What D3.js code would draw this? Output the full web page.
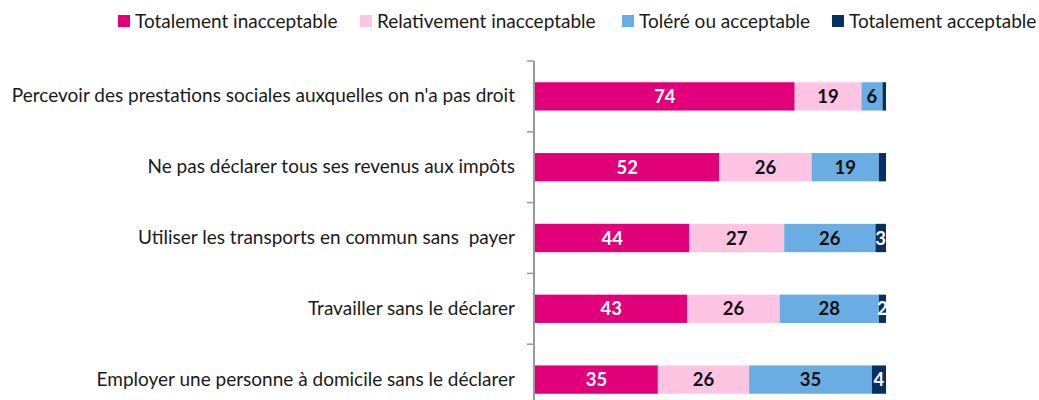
<!DOCTYPE html>
<html><head><meta charset="utf-8">
<script src="https://cdn.jsdelivr.net/npm/d3@7"></script>
<style>body{margin:0;background:#fff}svg{display:block}text{font-family:Lato,"Open Sans",sans-serif;white-space:pre}</style>
</head><body>
<svg id="c" width="1039" height="400"></svg>
<script>
const categories = [
  "Percevoir des prestations sociales auxquelles on n'a pas droit",
  "Ne pas déclarer tous ses revenus aux impôts",
  "Utiliser les transports en commun sans  payer",
  "Travailler sans le déclarer",
  "Employer une personne à domicile sans le déclarer"
];
const seriesNames = ["Totalement inacceptable","Relativement inacceptable","Toléré ou acceptable","Totalement acceptable"];
const totInacc = [74,52,44,43,35];
const relInacc = [19,26,27,26,26];
const tolere   = [6,19,26,28,35];
const totAcc   = [1,2,3,2,4];
const totAccLabelShown = [false,false,true,true,true];
const colors = ["#E2007A","#FFC4E2","#6AADE2","#062F62"];
const labelColors = ["#fff","#111","#111","#fff"];

const series = [totInacc, relInacc, tolere, totAcc];
const svg = d3.select("#c");
const x = d3.scaleLinear().domain([0,100]).range([535,886]);
const y = d3.scaleBand().domain(categories).range([61,415]).paddingInner(0.6).paddingOuter(0.3);

// 100% stacked data
const rows = categories.map((c,i)=>{
  const total = d3.sum(series, s=>s[i]);
  let acc=0;
  return series.map((s,k)=>{
    const p = s[i]/total*100;
    const d={cat:c,k,v:s[i],x0:acc,x1:acc+p,show:k<3||totAccLabelShown[i]};acc+=p;return d;});
});
const g = svg.append("g");
rows.forEach(r=>{
  g.selectAll(null).data(r).enter().append("rect")
   .attr("x",d=>x(d.x0)).attr("width",d=>x(d.x1)-x(d.x0))
   .attr("y",d=>y(d.cat)).attr("height",y.bandwidth())
   .attr("fill",d=>colors[d.k]);
  g.selectAll(null).data(r.filter(d=>d.show)).enter().append("text")
   .attr("x",d=>(x(d.x0)+x(d.x1))/2).attr("y",d=>y(d.cat)+y.bandwidth()/2)
   .attr("dy","0.36em").attr("text-anchor","middle")
   .attr("font-size",18.5).attr("font-weight","bold")
   .attr("fill",d=>labelColors[d.k]).text(d=>d.v);
});

// axis
const ax = svg.append("g").attr("transform","translate(534,0)")
  .call(d3.axisLeft(y).tickSize(0).tickPadding(19));
ax.select(".domain").attr("stroke","#999").attr("stroke-width",2).attr("d","M0,"+y.range()[0]+"V"+y.range()[1]);
ax.selectAll(".tick text").attr("font-size",19).attr("fill","#1a1a1a").attr("font-family","Lato,sans-serif").style("white-space","pre");
const bounds = d3.range(categories.length).map(i=>y.range()[0]+i*y.step());
ax.selectAll("line.b").data(bounds).enter().append("line").attr("class","b")
  .attr("x1",-7).attr("x2",0).attr("y1",d=>d).attr("y2",d=>d).attr("stroke","#999").attr("stroke-width",1.5);

// legend
const legX = [118,360,622,832];
const lg = svg.append("g");
seriesNames.forEach((n,k)=>{
  lg.append("rect").attr("x",legX[k]).attr("y",15).attr("width",12).attr("height",12).attr("fill",colors[k]);
  lg.append("text").attr("x",legX[k]+17).attr("y",21).attr("dy","0.36em").attr("font-size",19).attr("fill","#1a1a1a").text(n);
});
</script>
</body></html>
